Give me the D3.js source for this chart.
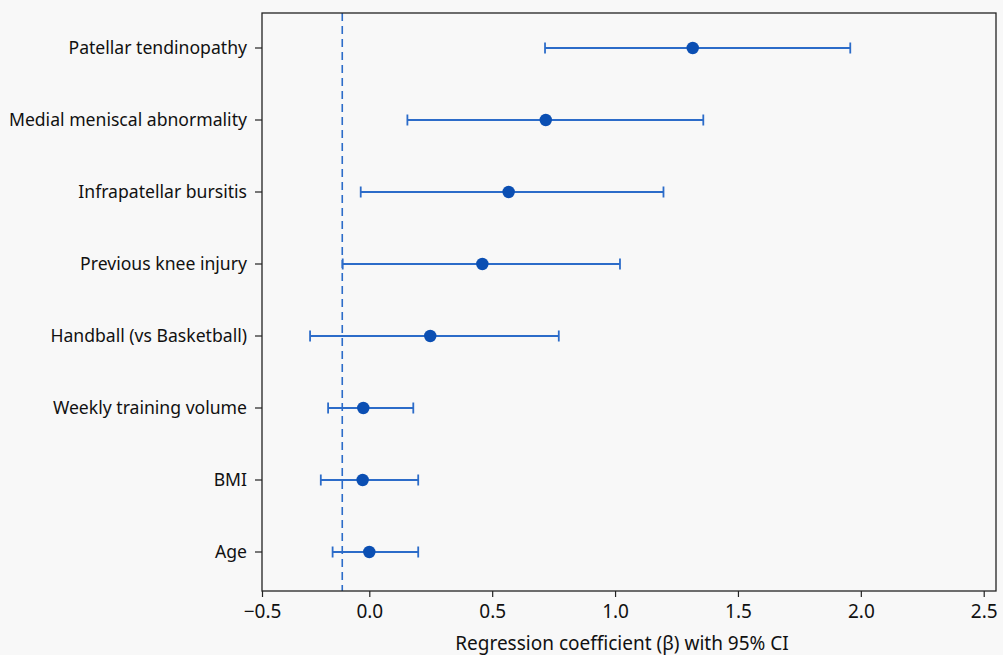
<!DOCTYPE html>
<html>
<head>
<meta charset="utf-8">
<script src="https://cdn.jsdelivr.net/npm/d3@7"></script>
<style>
  html, body { margin: 0; padding: 0; background: #f8f8f8; }
  svg { display: block; }
  text { font-family: "Noto Sans", "Open Sans", sans-serif; fill: #111; }
</style>
</head>
<body>
<svg id="chart" width="1003" height="655"></svg>
<script>
// ---- data ----
const categories = ["Patellar tendinopathy", "Medial meniscal abnormality", "Infrapatellar bursitis",
  "Previous knee injury", "Handball (vs Basketball)", "Weekly training volume", "BMI", "Age"];
const estimates = [1.316, 0.718, 0.567, 0.46, 0.248, -0.028, -0.031, 0.0];
const ciLower  = [0.715, 0.155, -0.040, -0.124, -0.276, -0.192, -0.226, -0.171];
const ciUpper  = [1.957, 1.359, 1.197, 1.02, 0.771, 0.179, 0.199, 0.199];
const xTicks = [-0.5, 0.0, 0.5, 1.0, 1.5, 2.0, 2.5];
const refValue = -0.126;
const xLabel = "Regression coefficient (β) with 95% CI";

// ---- layout ----
const svg = d3.select("#chart");
const pL = 262, pR = 996, pT = 13, pB = 591;
const blue = "#2c6cc9", dotBlue = "#0b4fb3";

const x = d3.scaleLinear().domain([-0.5, 0, 2.55]).range([pL, 369.3, pR]);
const y = d3.scaleBand().domain(categories).range([12, 588]);

svg.append("rect").attr("width", 1003).attr("height", 655).attr("fill", "#f8f8f8");

// reference dashed line
svg.append("line")
  .attr("x1", x(refValue)).attr("x2", x(refValue))
  .attr("y1", pT).attr("y2", pB)
  .attr("stroke", blue).attr("stroke-width", 1.6)
  .attr("stroke-dasharray", "8,5");

// frame
svg.append("rect").attr("x", pL).attr("y", pT)
  .attr("width", pR - pL).attr("height", pB - pT)
  .attr("fill", "none").attr("stroke", "#222").attr("stroke-width", 1.3);

// x axis
const xAxis = svg.append("g").attr("transform", `translate(0,${pB})`)
  .call(d3.axisBottom(x).tickValues(xTicks).tickSize(6).tickPadding(8)
    .tickFormat(d => d3.format(".1f")(d).replace("-", "\u2212")));
xAxis.select(".domain").remove();
xAxis.selectAll(".tick line").attr("stroke", "#222").attr("stroke-width", 1.2);
xAxis.selectAll(".tick text").style("font-size", "19px").attr("fill", "#111");

// y axis
const yAxis = svg.append("g").attr("transform", `translate(${pL},0)`)
  .call(d3.axisLeft(y).tickSize(7).tickPadding(8));
yAxis.select(".domain").remove();
yAxis.selectAll(".tick line").attr("stroke", "#222").attr("stroke-width", 1.2);
yAxis.selectAll(".tick text").style("font-size", "17.6px").attr("fill", "#111");

// x label
svg.append("text")
  .attr("x", (pL + pR) / 2 - 7).attr("y", 650)
  .attr("text-anchor", "middle").style("font-size", "19px")
  .text(xLabel);

// error bars
const rows = categories.map((c, i) => ({ c, est: estimates[i], lo: ciLower[i], hi: ciUpper[i] }));
const cy = d => y(d.c) + y.bandwidth() / 2;
const g = svg.append("g");
g.selectAll("line.ci").data(rows).join("line")
  .attr("x1", d => x(d.lo)).attr("x2", d => x(d.hi))
  .attr("y1", cy).attr("y2", cy)
  .attr("stroke", blue).attr("stroke-width", 1.8);
["lo", "hi"].forEach(k => {
  g.selectAll("line.cap-" + k).data(rows).join("line")
    .attr("class", "cap-" + k)
    .attr("x1", d => x(d[k])).attr("x2", d => x(d[k]))
    .attr("y1", d => cy(d) - 5.5).attr("y2", d => cy(d) + 5.5)
    .attr("stroke", blue).attr("stroke-width", 1.8);
});
g.selectAll("circle").data(rows).join("circle")
  .attr("cx", d => x(d.est)).attr("cy", cy).attr("r", 6.2)
  .attr("fill", dotBlue);
</script>
</body>
</html>
